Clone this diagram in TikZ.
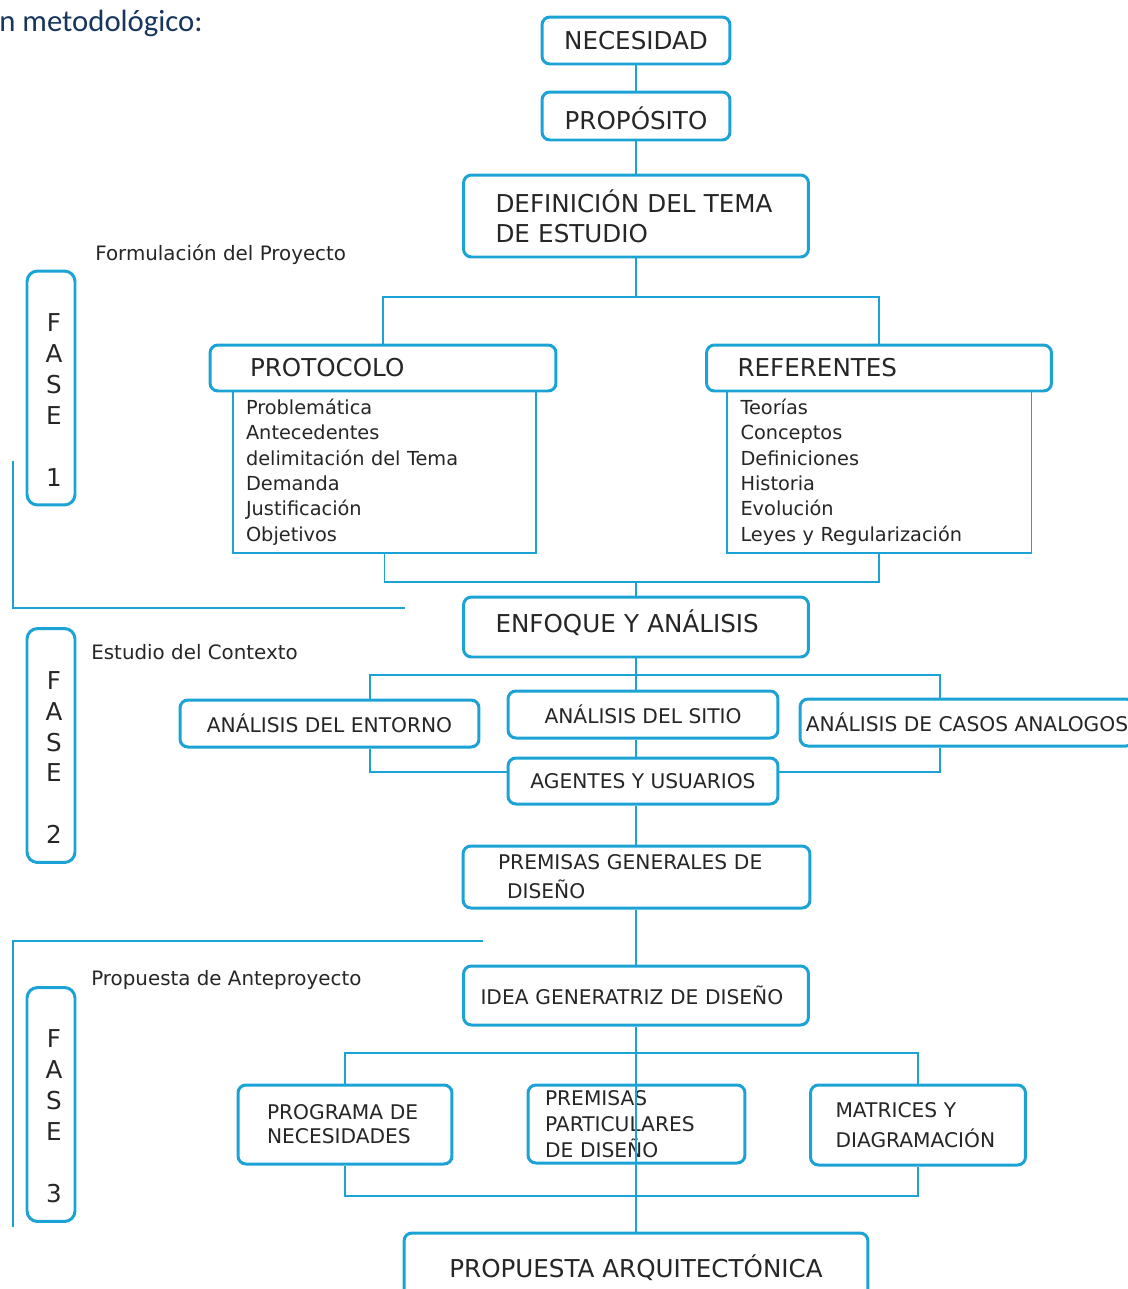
\documentclass[tikz,border=0pt]{standalone}
\usepackage{fontspec}
\setmainfont{DejaVu Sans}
\newfontfamily\titulofont{Carlito}
\definecolor{celeste}{RGB}{28,163,214}
\definecolor{marino}{RGB}{23,54,93}
\begin{document}
\begin{tikzpicture}[x=0.02cm,y=-0.02cm,
    caja/.style={draw=celeste,line width=1.7pt,rounded corners=4.5pt,fill=white,
      inner sep=0pt,align=center,text=black!85,font=\fontsize{14}{17}\selectfont},
    cajam/.style={caja,font=\fontsize{11.5}{14}\selectfont},
    lista/.style={draw=celeste,line width=1.1pt,fill=white,inner ysep=0pt,
      align=left,text=black!85,font=\fontsize{11}{14.45}\selectfont},
    fase/.style={draw=celeste,line width=1.7pt,rounded corners=6pt,
      minimum width=0.96cm,minimum height=4.68cm},
    fasetxt/.style={align=center,xshift=0.06cm,yshift=-0.24cm,text=black!85,
      font=\fontsize{14}{17.6}\selectfont},
    etapa/.style={anchor=west,inner sep=0pt,text=black!85,
      font=\fontsize{11.3}{14}\selectfont},
    linea/.style={draw=celeste,line width=1.1pt}]

  \useasboundingbox (0,0) rectangle (1127,1289);

  \draw
    (-1,31) node[anchor=base west,inner sep=0pt,text=marino,
      font=\titulofont\fontsize{17.5}{20}\selectfont] (tit) {n metodológico:}
    (95,255) node[etapa] (e1) {Formulación del Proyecto}
    (91,652) node[etapa] (e2) {Estudio del Contexto}
    (91,980) node[etapa] (e3) {Propuesta de Anteproyecto}
    (51,388) node[fase,label={[fasetxt]center:{F\\A\\S\\E\\[17.6pt]1}}] (f1) {}
    (51,745.5) node[fase,label={[fasetxt]center:{F\\A\\S\\E\\[17.6pt]2}}] (f2) {}
    (51,1104.5) node[fase,label={[fasetxt]center:{F\\A\\S\\E\\[17.6pt]3}}] (f3) {}
    (636,40.5) node[caja,minimum width=3.76cm,minimum height=0.94cm] (nec) {NECESIDAD}
    (636,116) node[caja,minimum width=3.76cm,minimum height=0.96cm,
      text height=0.55cm] (prop) {PROPÓSITO}
    (636,216) node[caja,align=left,text width=5.62cm,inner xsep=0.64cm,
      minimum height=1.64cm] (def) {DEFINICIÓN DEL TEMA\\DE ESTUDIO}
    (384.5,472) node[lista,text width=5.54cm,inner xsep=0.26cm,minimum height=3.24cm] (protl)
      {Problemática\\Antecedentes\\delimitación del Tema\\Demanda\\Justificación\\Objetivos}
    (879,472) node[lista,text width=5.54cm,inner xsep=0.28cm,minimum height=3.24cm] (refl)
      {Teorías\\Conceptos\\Definiciones\\Historia\\Evolución\\Leyes y Regularización}
    (383,368) node[caja,align=left,text width=5.32cm,inner xsep=0.8cm,
      minimum height=0.92cm] (proth) {PROTOCOLO}
    (879,368) node[caja,align=left,text width=5.66cm,inner xsep=0.62cm,
      minimum height=0.92cm] (refh) {REFERENTES}
    (636,627) node[caja,align=left,text width=5.62cm,inner xsep=0.64cm,
      minimum height=1.2cm,text depth=0.25cm] (enf) {ENFOQUE Y ANÁLISIS}
    (329.5,723.5) node[cajam,minimum width=5.98cm,minimum height=0.94cm] (ent) {ANÁLISIS DEL ENTORNO}
    (643,714.5) node[cajam,minimum width=5.4cm,minimum height=0.94cm] (sit) {ANÁLISIS DEL SITIO}
    (967,722.5) node[cajam,minimum width=6.68cm,minimum height=0.94cm] (cas) {ANÁLISIS DE CASOS ANALOGOS}
    (643,781) node[cajam,minimum width=5.4cm,minimum height=0.92cm] (age) {AGENTES Y USUARIOS}
    (636.5,877) node[cajam,align=left,text width=5.54cm,inner xsep=0.7cm,minimum height=1.24cm,
      font=\fontsize{11.5}{16.5}\selectfont] (pgd) {PREMISAS GENERALES DE\\\hspace*{0.18cm}DISEÑO}
    (636,995.5) node[cajam,align=left,text width=6.22cm,inner xsep=0.34cm,
      minimum height=1.18cm] (idea) {IDEA GENERATRIZ DE DISEÑO}
    (345,1124.5) node[cajam,align=left,text width=3.12cm,inner xsep=0.58cm,minimum height=1.58cm,
      font=\fontsize{11.5}{13.7}\selectfont] (pro) {PROGRAMA DE\\NECESIDADES}
    (636.5,1124) node[cajam,align=left,text width=3.66cm,inner xsep=0.34cm,minimum height=1.56cm,
      font=\fontsize{11.5}{14.8}\selectfont] (ppd) {PREMISAS\\PARTICULARES\\DE DISEÑO}
    (918,1125) node[cajam,align=left,text width=3.3cm,inner xsep=0.5cm,minimum height=1.6cm,
      font=\fontsize{11.5}{17}\selectfont] (mat) {MATRICES Y\\DIAGRAMACIÓN}
    (636,1268) node[caja,minimum width=9.28cm,minimum height=1.4cm] (arq) {PROPUESTA ARQUITECTÓNICA};

  \coordinate (j1) at (636,297);
  \coordinate (j2) at (636,582);
  \coordinate (j3) at (636,675);
  \coordinate (j3a) at (370,675);
  \coordinate (j3b) at (940,675);
  \coordinate (j4a) at (370,772);
  \coordinate (j4b) at (940,772);
  \coordinate (j5) at (636,1053);
  \coordinate (j6) at (636,1196);
  \coordinate (d1) at (13,461);
  \coordinate (d2) at (405,608);
  \coordinate (d3) at (483,941);
  \coordinate (d4) at (13,1227);

  \begin{scope}[linea]
    \draw (nec) to (prop);
    \draw (prop.south -| j1) to (def.north -| j1);
    \draw (def.south -| j1) to (j1);
    \draw (proth) |- (j1) -| (refh);
    \draw (protl) |- (j2) -| (refl);
    \draw (j2) to (enf.north -| j2);
    \draw (enf.south -| j3) to (sit.north -| j3);
    \draw (ent.north -| j3a) |- (j3b) -- (cas.north -| j3b);
    \draw (ent.south -| j4a) -- (j4a) -- (age.west |- j4a);
    \draw (cas.south -| j4b) -- (j4b) -- (age.east |- j4b);
    \draw (sit.south -| j3) to (age.north -| j3);
    \draw (age.south -| j3) to (pgd.north -| j3);
    \draw (pgd.south -| j3) to (idea.north -| j3);
    \draw (idea.south -| j5) to (arq.north -| j5);
    \draw (pro) |- (j5) -| (mat);
    \draw (pro) |- (j6) -| (mat);
    \draw (d1) |- (d2);
    \draw (d3) -| (d4);
  \end{scope}
\end{tikzpicture}
\end{document}
